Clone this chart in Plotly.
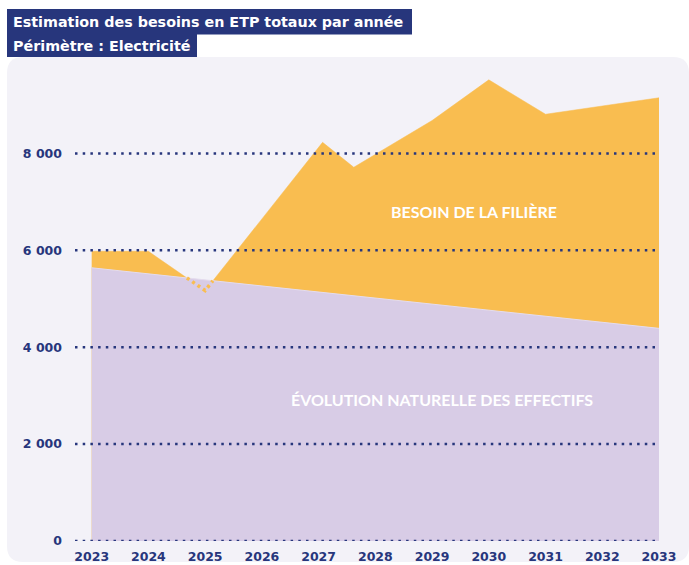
import numpy as np
import plotly.graph_objects as go

# ---------------- data ----------------
years = [2023, 2024, 2025, 2026, 2027, 2028, 2029, 2030, 2031, 2032, 2033]
year_labels = [str(y) for y in years]
natural_evolution = [5640, 5515, 5390, 5265, 5140, 5015, 4890, 4765, 4640, 4515, 4390]

need_x = [2023, 2024, 2025, 2026, 2027.07, 2027.62, 2028, 2029, 2030, 2031, 2032, 2033]
need_total = [5980, 5980, 5170, 6650, 8230, 7715, 7980, 8680, 9520, 8810, 8980, 9150]

y_ticks = [0, 2000, 4000, 6000, 8000]
y_tick_labels = ["0", "2 000", "4 000", "6 000", "8 000"]

title_line1 = "Estimation des besoins en ETP totaux par année"
title_line2 = "Périmètre : Electricité"
label_need = "BESOIN DE LA FILIÈRE"
label_natural = "ÉVOLUTION NATURELLE DES EFFECTIFS"

# ---------------- style ----------------
NAVY = "#27367c"
ORANGE = "#f9bd50"
PURPLE = "#d8cce6"
PANEL = "#f3f2f8"

OFF = 0  # body margin removed by post_script
W, H = 689, 565
ML, MR, MT, MB = 75, 30, 75, 24
PW, PH = W - ML - MR, H - MT - MB


def px_x(x):  # page pixel -> paper
    return (x - OFF - ML) / PW


def px_y(y):
    return (H - MB - (y - OFF)) / PH


# segment of the need curve hidden beneath the natural evolution area
grid = np.array(sorted(set(need_x) | set(years)), dtype=float)
n_vals = np.interp(grid, need_x, need_total)
e_vals = np.interp(grid, years, natural_evolution)
d = n_vals - e_vals
dot_x, dot_y = [], []
for i in range(len(grid) - 1):
    if d[i] < 0:
        dot_x.append(grid[i]); dot_y.append(n_vals[i])
    if d[i] * d[i + 1] < 0:
        t = d[i] / (d[i] - d[i + 1])
        xc = grid[i] + t * (grid[i + 1] - grid[i])
        dot_x.append(xc); dot_y.append(np.interp(xc, need_x, need_total))

fig = go.Figure()
fig.add_trace(go.Scatter(x=need_x, y=need_total, mode="lines", fill="tozeroy",
                         fillcolor=ORANGE, line=dict(color=ORANGE, width=0.5),
                         hoverinfo="skip", showlegend=False))
fig.add_trace(go.Scatter(x=years, y=natural_evolution, mode="lines", fill="tozeroy",
                         fillcolor=PURPLE, line=dict(color="#e4dcee", width=1),
                         hoverinfo="skip", showlegend=False))
fig.add_trace(go.Scatter(x=dot_x, y=dot_y, mode="lines",
                         line=dict(color=ORANGE, width=3.5, dash="3px,3.5px"),
                         hoverinfo="skip", showlegend=False))

shapes = []
# rounded panel
x0, x1 = px_x(7), px_x(689)
y0, y1 = px_y(562), px_y(57)
rx, ry = 16 / PW, 16 / PH
path = (f"M {x0+rx},{y1} L {x1-rx},{y1} Q {x1},{y1} {x1},{y1-ry} "
        f"L {x1},{y0+ry} Q {x1},{y0} {x1-rx},{y0} L {x0+rx},{y0} "
        f"Q {x0},{y0} {x0},{y0+ry} L {x0},{y1-ry} Q {x0},{y1} {x0+rx},{y1} Z")
shapes.append(dict(type="path", path=path, xref="paper", yref="paper",
                   fillcolor=PANEL, line=dict(width=0), layer="below"))
# title boxes
shapes.append(dict(type="rect", xref="paper", yref="paper",
                   x0=px_x(7), x1=px_x(412), y0=px_y(34.5), y1=px_y(9),
                   fillcolor=NAVY, line=dict(width=0), layer="above"))
shapes.append(dict(type="rect", xref="paper", yref="paper",
                   x0=px_x(7), x1=px_x(197), y0=px_y(57), y1=px_y(34),
                   fillcolor=NAVY, line=dict(width=0), layer="above"))
# dotted gridlines above the areas
for v in y_ticks:
    shapes.append(dict(type="line", xref="paper", yref="y", x0=0, x1=1, y0=v, y1=v,
                       line=dict(color=NAVY, width=2.5, dash="2.5px,5.2px"),
                       layer="above"))

annotations = [
    dict(text=title_line1, xref="paper", yref="paper", x=px_x(11), y=px_y(22),
         xanchor="left", yanchor="middle", showarrow=False,
         font=dict(family="DejaVu Sans", size=14.3, color="white", weight="bold")),
    dict(text=title_line2, xref="paper", yref="paper", x=px_x(11), y=px_y(45.5),
         xanchor="left", yanchor="middle", showarrow=False,
         font=dict(family="DejaVu Sans", size=14.3, color="white", weight="bold")),
    dict(text=label_need, xref="x", yref="y", x=2029.74, y=6812,
         xanchor="center", yanchor="middle", showarrow=False,
         font=dict(family="Lato", size=16, color="white", weight="bold")),
    dict(text=label_natural, xref="x", yref="y", x=2029.17, y=2911,
         xanchor="center", yanchor="middle", showarrow=False,
         font=dict(family="Lato", size=16, color="white", weight="bold")),
]

fig.update_layout(
    width=W, height=H,
    margin=dict(l=ML, r=MR, t=MT, b=MB, pad=0, autoexpand=False),
    paper_bgcolor="white", plot_bgcolor="rgba(0,0,0,0)",
    shapes=shapes, annotations=annotations,
    showlegend=False,
)
fig.update_xaxes(range=[2022.706, 2033], tickvals=years, ticktext=year_labels,
                 showgrid=False, zeroline=False, showline=False, ticks="",
                 automargin=False, ticklabelstandoff=6,
                 tickfont=dict(family="DejaVu Sans", size=12.5, color=NAVY, weight="bold"),
                 fixedrange=True)
fig.update_yaxes(range=[0, 9620], tickvals=y_ticks, ticktext=y_tick_labels,
                 showgrid=False, zeroline=False, showline=False, ticks="",
                 automargin=False, ticklabelstandoff=12,
                 tickfont=dict(family="DejaVu Sans", size=12.5, color=NAVY, weight="bold"),
                 fixedrange=True)

fig.write_html("out.html", config={"displayModeBar": False},
               post_script="document.body.style.margin='0';document.body.style.overflow='hidden';")
